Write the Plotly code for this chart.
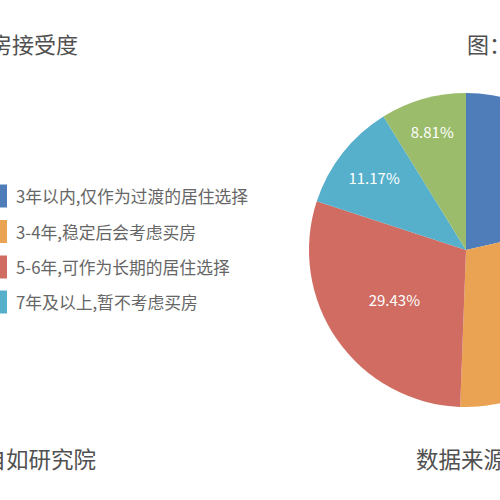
import plotly.graph_objects as go

# Data
categories = ["3年以内,仅作为过渡的居住选择", "3-4年,稳定后会考虑买房",
              "5-6年,可作为长期的居住选择", "7年及以上,暂不考虑买房", "其他"]
values = [21.39, 29.20, 29.43, 11.17, 8.81]
colors = ["#4F7DBA", "#E9A353", "#D06C61", "#56B0CC", "#9BBC6B"]
legend_items = categories[:4]

W, H = 640, 500
cx, cy, R = 466, 250, 157

fig = go.Figure(go.Pie(
    labels=categories, values=values, sort=False, direction="clockwise", rotation=0,
    marker=dict(colors=colors, line=dict(width=0)),
    texttemplate="%{value:.2f}%", textposition="inside", insidetextorientation="horizontal",
    textfont=dict(color="white", size=15, family="Noto Sans CJK SC"),
    showlegend=False, hoverinfo="label+value",
))

FONT = "Noto Sans CJK SC"
ann = []
shapes = []
# titles / sources (cropped)
ann.append(dict(text="租房者买房接受度", x=80, y=H - 43, xanchor="right", yanchor="middle",
                showarrow=False, font=dict(size=22, color="#505050", family=FONT)))
ann.append(dict(text="图：租房年限与买房意愿", x=465, y=H - 43, xanchor="left", yanchor="middle",
                showarrow=False, font=dict(size=22, color="#505050", family=FONT)))
ann.append(dict(text="数据来源：自如研究院", x=98, y=H - 458, xanchor="right", yanchor="middle",
                showarrow=False, font=dict(size=22.5, color="#505050", family=FONT)))
ann.append(dict(text="数据来源：自如研究院", x=414, y=H - 458, xanchor="left", yanchor="middle",
                showarrow=False, font=dict(size=22.5, color="#505050", family=FONT)))

ys = [196, 231.5, 267, 302]
for i, (lab, yy) in enumerate(zip(legend_items, ys)):
    ann.append(dict(text=lab, x=14, y=H - yy, xanchor="left", yanchor="middle", showarrow=False,
                    font=dict(size=16.8, color="#666", family=FONT)))
    shapes.append(dict(type="rect", x0=-15, x1=7,
                       y0=H - yy - 11.5, y1=H - yy + 11.5, line=dict(width=0), fillcolor=colors[i]))

# convert pixel coordinates to paper coords
ml, mr, mt, mb = cx - R, W - (cx + R), cy - R, H - (cy + R)
pw, ph = W - ml - mr, H - mt - mb
for a in ann:
    a["xref"] = "paper"; a["yref"] = "paper"
    a["x"] = (a["x"] - ml) / pw
    a["y"] = (a["y"] - mb) / ph
for s in shapes:
    s["xref"] = "paper"; s["yref"] = "paper"
    s["x0"] = (s["x0"] - ml) / pw; s["x1"] = (s["x1"] - ml) / pw
    s["y0"] = (s["y0"] - mb) / ph; s["y1"] = (s["y1"] - mb) / ph

fig.update_layout(
    width=W, height=H, autosize=False,
    margin=dict(l=ml, r=mr, t=mt, b=mb, pad=0),
    paper_bgcolor="white", plot_bgcolor="white",
    annotations=ann, shapes=shapes,
)

fig.write_html("out.html", config={"displayModeBar": False},
               post_script="document.documentElement.style.overflow='hidden';"
                           "document.body.style.overflow='hidden';document.body.style.margin='0';")
